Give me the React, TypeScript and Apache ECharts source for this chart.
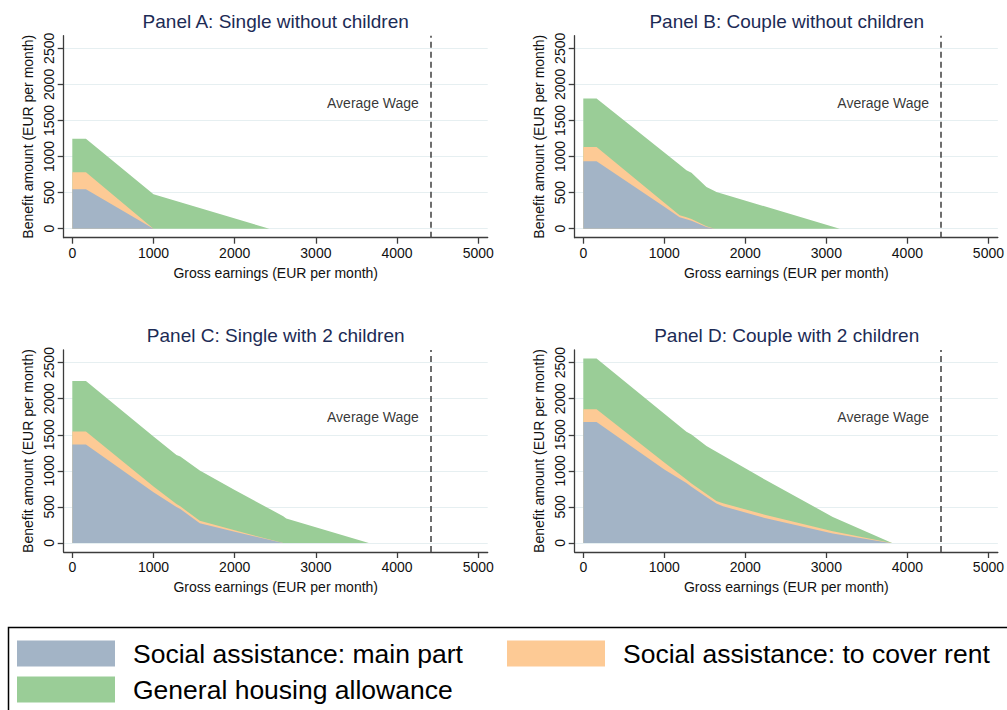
import React, { useEffect, useRef } from 'react';
import * as echarts from 'echarts';

// ---------- data ----------
const SERIES_NAMES = [
  'Social assistance: main part',
  'Social assistance: to cover rent',
  'General housing allowance',
];
const PANEL_TITLES = [
  'Panel A: Single without children',
  'Panel B: Couple without children',
  'Panel C: Single with 2 children',
  'Panel D: Couple with 2 children',
];
const X_TICKS = [0, 1000, 2000, 3000, 4000, 5000];
const Y_TICKS = [0, 500, 1000, 1500, 2000, 2500];
const AVERAGE_WAGE = 4414;
const AVERAGE_WAGE_LABEL = 'Average Wage';

// Panel A: Single without children
const earningsA = [0, 168, 1000, 2426];
const mainA = [546, 546, 0, 0];
const rentA = [236, 236, 0, 0];
const housingA = [463, 463, 477, 0];

// Panel B: Couple without children
const earningsB = [0, 164, 1000, 1189, 1273, 1335, 1520, 1620, 1643, 3164];
const mainB = [935, 935, 305, 160, 130, 110, 25, 0, 0, 0];
const rentB = [198, 198, 56, 25, 28, 25, 10, 0, 0, 0];
const housingB = [673, 673, 694, 700, 652, 640, 543, 521, 508, 0];

// Panel C: Single with 2 children
const earningsC = [0, 168, 1000, 1283, 1330, 1570, 2000, 2598, 2635, 3652];
const mainC = [1366, 1366, 704, 500, 470, 275, 154, 0, 0, 0];
const rentC = [180, 180, 78, 40, 38, 34, 21, 0, 0, 0];
const housingC = [699, 699, 695, 680, 692, 695, 561, 370, 340, 0];

// Panel D: Couple with 2 children
const earningsD = [0, 164, 1000, 1273, 1335, 1520, 1643, 1724, 2240, 3079, 3790, 3811];
const mainD = [1676, 1676, 1020, 833, 778, 639, 547, 510, 345, 130, 0, 0];
const rentD = [176, 176, 95, 46, 45, 40, 36, 42, 46, 32, 3, 0];
const housingD = [704, 704, 677, 663, 680, 664, 681, 660, 489, 199, 7, 0];

const PANELS = [
  { x: earningsA, parts: [mainA, rentA, housingA] },
  { x: earningsB, parts: [mainB, rentB, housingB] },
  { x: earningsC, parts: [mainC, rentC, housingC] },
  { x: earningsD, parts: [mainD, rentD, housingD] },
];

// ---------- styles ----------
const COLORS = ['#a3b4c6', '#fdca95', '#9acd97'];
const FONT = '"Liberation Sans", Arial, Helvetica, sans-serif';
const AXIS_COLOR = '#3c3c3c';
const TEXT_COLOR = '#111111';
const TITLE_COLOR = '#1c2b55';
const GRID_LEFTS = [63.7, 574.7];
const GRID_TOPS = [35.7, 350];
const GRID_W = 424;
const GRID_H = 202;
const LABEL_ANCHOR = { x: 4330, y: 1740 };

function buildOption() {
  const grid: any[] = [];
  const xAxis: any[] = [];
  const yAxis: any[] = [];
  const series: any[] = [];
  const title: any[] = [];

  PANELS.forEach((p, i) => {
    const col = i % 2;
    const row = Math.floor(i / 2);
    grid.push({ left: GRID_LEFTS[col], top: GRID_TOPS[row], width: GRID_W, height: GRID_H, containLabel: false });
    title.push({
      text: PANEL_TITLES[i],
      left: GRID_LEFTS[col] + GRID_W / 2,
      top: GRID_TOPS[row] - 24,
      textAlign: 'center',
      padding: 0,
      textStyle: { fontFamily: FONT, fontSize: 19, fontWeight: 'normal', color: TITLE_COLOR },
    });
    const axisLine = { show: true, onZero: false, lineStyle: { color: AXIS_COLOR, width: 1.3 } };
    xAxis.push({
      gridIndex: i,
      type: 'value',
      min: -106,
      max: 5116,
      name: 'Gross earnings (EUR per month)',
      nameLocation: 'middle',
      nameGap: 28,
      nameTextStyle: { fontFamily: FONT, fontSize: 14, color: TEXT_COLOR },
      axisLine,
      axisTick: { show: true, length: 6, customValues: X_TICKS, lineStyle: { color: AXIS_COLOR, width: 1.3 } },
      axisLabel: {
        customValues: X_TICKS,
        fontFamily: FONT,
        fontSize: 14,
        color: TEXT_COLOR,
        margin: 8,
        formatter: (v: number) => String(v),
      },
      splitLine: { show: false },
    });
    yAxis.push({
      gridIndex: i,
      type: 'value',
      min: -125,
      max: 2675,
      name: 'Benefit amount (EUR per month)',
      nameLocation: 'middle',
      nameGap: 29,
      nameTextStyle: { fontFamily: FONT, fontSize: 14, color: TEXT_COLOR },
      axisLine,
      axisTick: { show: true, length: 6, customValues: Y_TICKS, lineStyle: { color: AXIS_COLOR, width: 1.3 } },
      axisLabel: {
        customValues: Y_TICKS,
        rotate: 90,
        fontFamily: FONT,
        fontSize: 14,
        color: TEXT_COLOR,
        margin: 8,
        formatter: (v: number) => String(v),
      },
      splitLine: { show: true, lineStyle: { color: '#e6eff1', width: 1.2 } },
    });

    // cumulative tops (stacking done here); draw top layer first so lower layers overlay it
    const tops = p.parts.map((_, k) =>
      p.x.map((_, j) => p.parts.slice(0, k + 1).reduce((acc, arr) => acc + arr[j], 0))
    );
    [2, 1, 0].forEach((k, order) => {
      const s: any = {
        name: SERIES_NAMES[k],
        type: 'line',
        xAxisIndex: i,
        yAxisIndex: i,
        symbol: 'none',
        showSymbol: false,
        color: COLORS[k],
        itemStyle: { color: COLORS[k] },
        lineStyle: { width: 0, opacity: 0 },
        areaStyle: { color: COLORS[k], opacity: 1 },
        data: p.x.map((xv, j) => [xv, tops[k][j]]),
        z: 2 + order,
      };
      if (k === 2) {
        s.markLine = {
          silent: true,
          symbol: 'none',
          label: { show: false },
          lineStyle: { type: [6, 4], color: '#4a4a4a', width: 1.6 },
          data: [{ xAxis: AVERAGE_WAGE }],
        };
      }
      series.push(s);
    });
    series.push({
      type: 'scatter',
      xAxisIndex: i,
      yAxisIndex: i,
      symbolSize: 0,
      silent: true,
      data: [[LABEL_ANCHOR.x, LABEL_ANCHOR.y]],
      label: {
        show: true,
        position: 'left',
        distance: 5,
        formatter: AVERAGE_WAGE_LABEL,
        fontFamily: FONT,
        fontSize: 14,
        color: '#000',
      },
    });
  });

  const legendCommon = {
    orient: 'horizontal',
    padding: 0,
    itemWidth: 98,
    itemHeight: 26,
    icon: 'rect',
    selectedMode: false,
    textStyle: { fontFamily: FONT, fontSize: 26.5, color: '#000', padding: [0, 0, 0, 13] },
  };
  const legend = [
    { ...legendCommon, data: [{ name: SERIES_NAMES[0], itemStyle: { color: COLORS[0] } }], left: 17, top: 640 },
    { ...legendCommon, data: [{ name: SERIES_NAMES[1], itemStyle: { color: COLORS[1] } }], left: 507, top: 640 },
    { ...legendCommon, data: [{ name: SERIES_NAMES[2], itemStyle: { color: COLORS[2] } }], left: 17, top: 676 },
  ];

  return {
    animation: false,
    backgroundColor: '#ffffff',
    title,
    grid,
    xAxis,
    yAxis,
    series,
    legend,
    graphic: [
      {
        type: 'rect',
        shape: { x: 8.5, y: 627.5, width: 1100, height: 200 },
        style: { fill: 'none', stroke: '#000', lineWidth: 1.5 },
        silent: true,
      },
    ],
  };
}

export default function App() {
  const ref = useRef<HTMLDivElement>(null);
  useEffect(() => {
    if (!ref.current) return;
    const chart = echarts.init(ref.current, undefined, { renderer: 'svg' });
    chart.setOption(buildOption());
    return () => chart.dispose();
  }, []);
  return (
    <div
      ref={ref}
      style={{ position: 'fixed', left: 0, top: 0, width: 1007, height: 710, background: '#fff' }}
    />
  );
}
